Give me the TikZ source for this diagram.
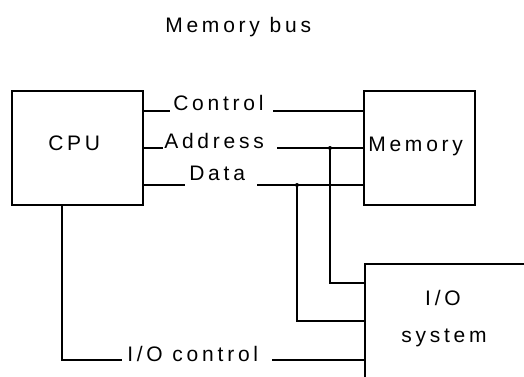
\documentclass[tikz,border=0pt]{standalone}
\usepackage{fontspec}
\setmainfont{Liberation Sans}[LetterSpace=18]
\usetikzlibrary{fit}
\begin{document}
\begin{tikzpicture}[x=0.75pt,y=-0.75pt,
  every node/.style={font=\fontsize{15.75}{18}\selectfont, inner sep=0pt},
  box/.style={draw, line width=1.1pt, inner sep=0pt},
  wire/.style={line width=1.1pt},
  junct/.style={circle, fill, inner sep=0pt, minimum size=3pt}]
\clip (0,0) rectangle (524,376);
\fill[white] (0,0) rectangle (524,376);
% boxes
\coordinate (c1) at (12,91);  \coordinate (c2) at (143,205);
\coordinate (m1) at (364,91); \coordinate (m2) at (475,205);
\coordinate (i1) at (365,264); \coordinate (i2) at (560,420);
\node[box, fit=(c1)(c2)] (cpu) {};
\node[box, fit=(m1)(m2)] (mem) {};
\node[box, fit=(i1)(i2)] (io) {};
% texts
\node[anchor=base west] (title) at (165,32) {Memory bus};
\node[anchor=base west] (cputxt) at (48,150) {CPU};
\node[anchor=base west] (memtxt) at (368,151) {Memory};
\node[anchor=base] (iotxt1) at (443,305) {I/O};
\node[anchor=base] (iotxt2) at (444,342) {system};
\node[anchor=base west] (ctl) at (173,110) {Control};
\node[anchor=base west] (adr) at (164,148) {Address};
\node[anchor=base west] (dat) at (189,180) {Data};
\node[anchor=base west] (ioc) at (127,361) {I/O control};
% connector coordinates
\coordinate (ctlA) at (170,111); \coordinate (ctlB) at (273,111);
\coordinate (adrA) at (163,148); \coordinate (adrB) at (277,148);
\coordinate (datA) at (185,185); \coordinate (datB) at (257,185);
\coordinate (ja) at (330,148); \coordinate (jd) at (297,185);
\coordinate (ioa) at (330,283); \coordinate (iod) at (297,321);
\coordinate (cpuB) at (62,205); \coordinate (iocA) at (62,360);
\coordinate (iocB) at (122,360); \coordinate (iocC) at (272,360);
% control
\draw[wire] (cpu.east |- ctlA) -- (ctlA);
\draw[wire] (ctlB) -- (mem.west |- ctlB);
% address
\draw[wire] (cpu.east |- adrA) -- (adrA);
\draw[wire] (adrB) -- (mem.west |- adrB);
% data
\draw[wire] (cpu.east |- datA) -- (datA);
\draw[wire] (datB) -- (mem.west |- datB);
% taps to I/O
\draw[wire] (ja) -- (ioa) -- (io.west |- ioa);
\draw[wire] (jd) -- (iod) -- (io.west |- iod);
\node[junct] (jadot) at (ja) {};
\node[junct] (jddot) at (jd) {};
% I/O control
\draw[wire] (cpu.south -| cpuB) -- (iocA) -- (iocB);
\draw[wire] (iocC) -- (io.west |- iocC);
\end{tikzpicture}
\end{document}
